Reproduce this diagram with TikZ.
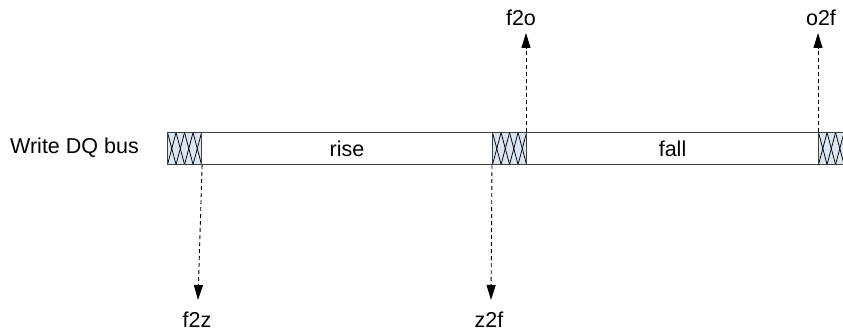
\documentclass[tikz,border=0pt]{standalone}
\usepackage{fontspec}
\setmainfont{Liberation Sans}
\usetikzlibrary{arrows.meta}
\definecolor{hatchfill}{HTML}{DCE6F2}
\definecolor{busline}{HTML}{404040}
\begin{document}
\begin{tikzpicture}[x=1pt,y=-1pt,
  lbl/.style={font=\fontsize{21.5}{25}\selectfont, inner sep=0pt},
  seg/.style={draw=busline, line width=1.1pt, minimum height=32pt, inner sep=0pt, anchor=north west},
  hatchbox/.style={seg, fill=hatchfill, minimum width=34pt,
    path picture={\foreach \k in {-1,...,5}{
      \draw[line width=0.75pt, black] ([xshift=\k*8.5pt]path picture bounding box.north west) -- ([xshift=(\k+1)*8.5pt]path picture bounding box.south west);
      \draw[line width=0.75pt, black] ([xshift=(\k+1)*8.5pt]path picture bounding box.north west) -- ([xshift=\k*8.5pt]path picture bounding box.south west);}}},
  sig/.style={dashed, dash pattern=on 4pt off 3pt, line width=0.9pt, -{Triangle[length=15pt,width=9pt]}}
]
\clip (0,0) rectangle (843,331);
\useasboundingbox (0,0) rectangle (843,331);
% bus
\node[seg, minimum width=291pt] (rise) at (201,132) {};
\node[seg, minimum width=292pt] (fall) at (526,132) {};
\node[hatchbox] (h1) at (167,132) {};
\node[hatchbox] (h2) at (492,132) {};
\node[hatchbox] (h3) at (818,132) {};
\node[lbl] at (rise.center) {rise};
\node[lbl] at (fall.center) {fall};
\node[lbl, anchor=east] (wdq) at (139,148) {Write DQ bus};
% labels
\node[lbl, anchor=base] (f2o) at (521,26) {f2o};
\node[lbl, anchor=base] (o2f) at (821,26) {o2f};
\node[lbl, anchor=base] (f2z) at (197,327) {f2z};
\node[lbl, anchor=base] (z2f) at (489,327) {z2f};
% arrows
\draw[sig] (fall.north west) -- (fall.north west |- 0,33) coordinate (tf2o);
\draw[sig] (h3.north west) -- (h3.north west |- 0,33) coordinate (to2f);
\draw[sig] (h1.south east) -- (198,300) coordinate (tf2z);
\draw[sig] (h2.south west) -- (491,300) coordinate (tz2f);
\end{tikzpicture}
\end{document}
